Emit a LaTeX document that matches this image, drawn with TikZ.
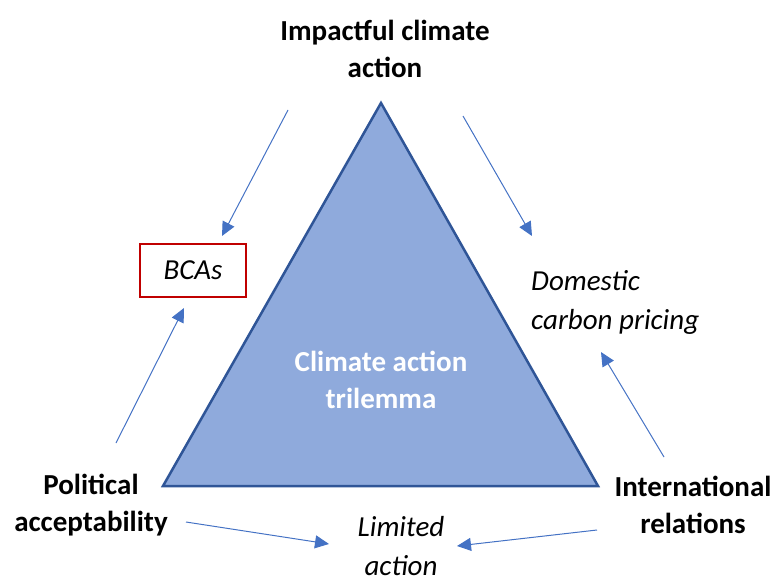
\documentclass[tikz,border=0pt]{standalone}
\usepackage{fontspec}
\setmainfont{Carlito}
\usetikzlibrary{arrows.meta}
\definecolor{trifill}{HTML}{8FAADC}
\definecolor{triedge}{HTML}{2F5597}
\definecolor{arrowblue}{HTML}{4472C4}
\definecolor{boxred}{HTML}{C00000}
\begin{document}
\begin{tikzpicture}[x=1pt,y=-1pt,
  lbl/.style={font=\fontsize{29}{37}\selectfont\bfseries,align=center,inner sep=0pt},
  itl/.style={font=\fontsize{29}{39}\selectfont\itshape,inner sep=0pt},
  flow/.style={arrowblue,line width=1pt,-{Triangle[length=14pt,width=13pt]}}]
\useasboundingbox (0,0) rectangle (775,575);
% central triangle
\draw[fill=trifill,draw=triedge,line width=2.5pt,line join=miter]
  (381,103) coordinate (apex) -- (163,486) coordinate (bl) -- (598,486) coordinate (br) -- cycle;
\node[lbl,text=white] (tri) at (381,380) {Climate action\\trilemma};
% corner labels
\node[lbl] (impact) at (385,48.5) {Impactful climate\\action};
\node[lbl] (polit) at (91,505) {Political\\acceptability};
\node[lbl] (intl) at (693,504.5) {International\\relations};
% outcomes
\node[itl,draw=boxred,line width=1.5pt,minimum width=106pt,minimum height=53pt] (bca) at (193,270.5) {BCAs};
\node[itl,align=left,anchor=west] (dom) at (531,302.5) {Domestic\\carbon pricing};
\node[itl,align=center] (lim) at (401,546) {Limited\\action};
% arrow end points
\coordinate (a1s) at (288,110); \coordinate (a1e) at (222,236);
\coordinate (a2s) at (463,116); \coordinate (a2e) at (532,236);
\coordinate (a3s) at (116,443); \coordinate (a3e) at (184,308);
\coordinate (a4s) at (664,457); \coordinate (a4e) at (601,352);
\coordinate (a5s) at (186,522); \coordinate (a5e) at (329,544);
\coordinate (a6s) at (597,530); \coordinate (a6e) at (457,546);
\draw[flow] (a1s) -- (a1e);
\draw[flow] (a2s) -- (a2e);
\draw[flow] (a3s) -- (a3e);
\draw[flow] (a4s) -- (a4e);
\draw[flow] (a5s) -- (a5e);
\draw[flow] (a6s) -- (a6e);
\end{tikzpicture}
\end{document}
